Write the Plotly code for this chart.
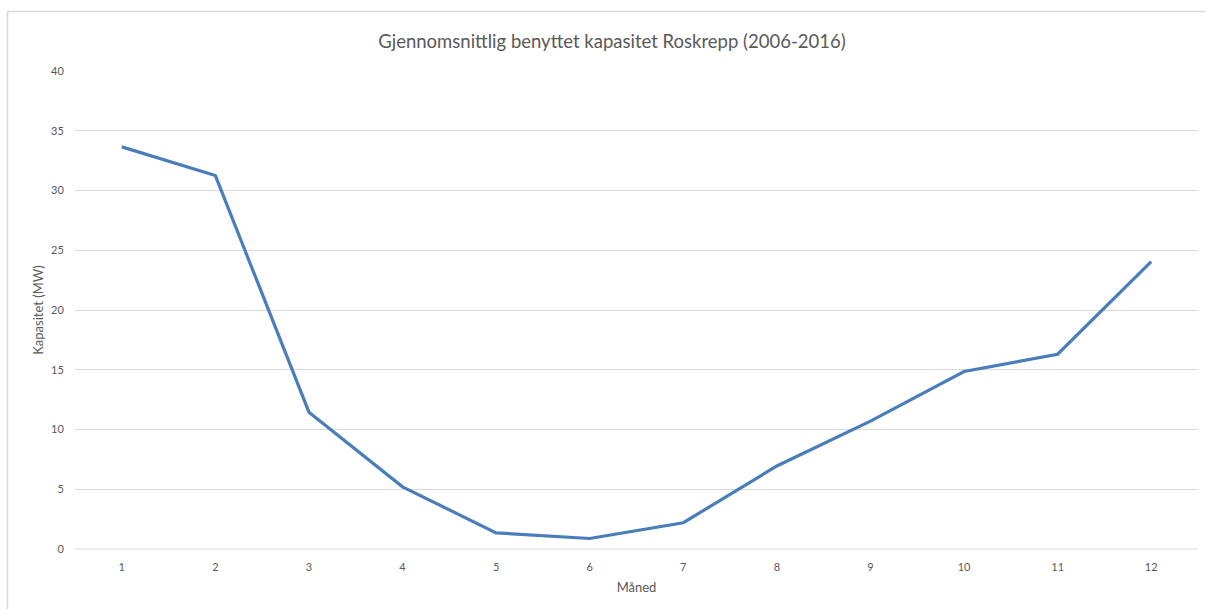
import plotly.graph_objects as go

months = [1, 2, 3, 4, 5, 6, 7, 8, 9, 10, 11, 12]
capacity = [33.65, 31.25, 11.45, 5.2, 1.35, 0.88, 2.2, 6.95, 10.7, 14.85, 16.3, 24.05]
title = "Gjennomsnittlig benyttet kapasitet Roskrepp (2006-2016)"
x_title = "Måned"
y_title = "Kapasitet (MW)"
y_ticks = [0, 5, 10, 15, 20, 25, 30, 35, 40]

W, H = 1206, 609
L, R, T, B = 75, 8, 71, 60
pw, ph = W - L - R, H - T - B


def px_x(p):
    return (p - L) / pw


def px_y(p):
    return (T + ph - p) / ph


fig = go.Figure()
fig.add_trace(go.Scatter(
    x=months, y=capacity, mode="lines",
    line=dict(color="#4a7ebb", width=3.2),
    showlegend=False, hoverinfo="x+y",
))

border = dict(color="#d9d9d9", width=1.5)
font_family = "Lato, 'Open Sans', sans-serif"
fig.update_layout(
    width=W, height=H,
    margin=dict(l=L, r=R, t=T, b=B),
    paper_bgcolor="white", plot_bgcolor="white",
    title=dict(text=title, x=612 / W, xref="container", xanchor="center",
               y=1 - 42 / H, yanchor="middle",
               font=dict(family=font_family, size=18.5, color="#595959")),
    xaxis=dict(
        range=[0.5, 12.5], tickmode="array", tickvals=months,
        ticktext=[str(m) for m in months],
        showgrid=False, zeroline=False, showline=False,
        ticks="outside", ticklen=8, tickcolor="rgba(0,0,0,0)",
        tickfont=dict(family=font_family, size=11, color="#595959"),
        title=dict(text=x_title, standoff=10,
                   font=dict(family=font_family, size=13, color="#595959")),
    ),
    yaxis=dict(
        range=[0, 40], tickmode="array", tickvals=y_ticks,
        showgrid=True, gridcolor="#d9d9d9", gridwidth=1,
        zeroline=False, showline=False, ticks="outside", ticklen=8, tickcolor="rgba(0,0,0,0)",
        tickfont=dict(family=font_family, size=11, color="#595959"),
        title=dict(text=y_title, standoff=4,
                   font=dict(family=font_family, size=13, color="#595959")),
    ),
    shapes=[
        dict(type="line", xref="paper", yref="paper", x0=0, x1=1, y0=0, y1=0,
             line=dict(color="#d9d9d9", width=1)),
        dict(type="line", xref="paper", yref="paper",
             x0=px_x(7), x1=px_x(W), y0=px_y(11.5), y1=px_y(11.5), line=border),
        dict(type="line", xref="paper", yref="paper",
             x0=px_x(7.5), x1=px_x(7.5), y0=px_y(11), y1=px_y(H), line=border),
    ],
)

fig.write_html("out.html", config={"displayModeBar": False},
               post_script="document.body.style.margin='0';")
